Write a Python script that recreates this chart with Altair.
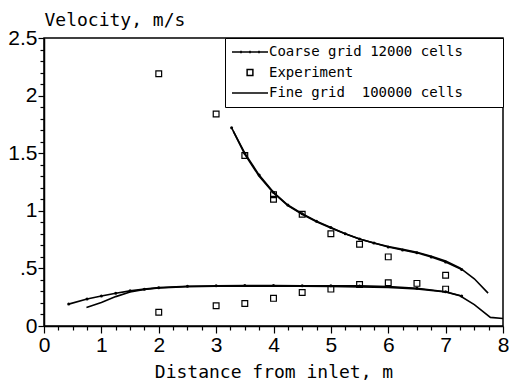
import altair as alt
import pandas as pd

# ---- data ----
coarse_up_x = [3.27, 3.5, 3.75, 4.0, 4.25, 4.5, 4.75, 5.0, 5.25, 5.5, 5.75, 6.0, 6.25, 6.5, 6.75, 7.0, 7.28]
coarse_up_y = [1.72, 1.50, 1.31, 1.16, 1.05, 0.975, 0.91, 0.855, 0.80, 0.755, 0.72, 0.685, 0.66, 0.635, 0.60, 0.555, 0.49]

coarse_lo_x = [0.43, 0.75, 1.0, 1.25, 1.5, 1.75, 2.0, 2.5, 3.0, 3.5, 4.0, 4.5, 5.0, 5.5, 6.0, 6.5, 7.0, 7.28]
coarse_lo_y = [0.19, 0.235, 0.26, 0.285, 0.305, 0.32, 0.333, 0.345, 0.35, 0.352, 0.352, 0.35, 0.35, 0.348, 0.343, 0.327, 0.297, 0.26]

fine_up_x = [3.3, 3.5, 3.75, 4.0, 4.25, 4.5, 4.75, 5.0, 5.25, 5.5, 5.75, 6.0, 6.25, 6.5, 6.75, 7.0, 7.25, 7.5, 7.74]
fine_up_y = [1.69, 1.49, 1.30, 1.155, 1.045, 0.97, 0.905, 0.85, 0.80, 0.755, 0.72, 0.69, 0.665, 0.64, 0.605, 0.565, 0.505, 0.41, 0.285]

fine_lo_x = [0.74, 1.0, 1.25, 1.5, 1.75, 2.0, 2.5, 3.0, 3.5, 4.0, 4.5, 5.0, 5.5, 6.0, 6.5, 7.0, 7.25, 7.5, 7.78, 8.0]
fine_lo_y = [0.16, 0.205, 0.255, 0.295, 0.318, 0.33, 0.342, 0.345, 0.345, 0.345, 0.345, 0.343, 0.34, 0.335, 0.322, 0.295, 0.262, 0.185, 0.075, 0.065]

exp_x = [2, 3, 3.5, 4, 4, 4.5, 5, 5.5, 6, 7, 2, 3, 3.5, 4, 4.5, 5, 5.5, 6, 6.5, 7]
exp_y = [2.19, 1.84, 1.48, 1.14, 1.10, 0.97, 0.80, 0.71, 0.60, 0.44,
         0.12, 0.175, 0.195, 0.24, 0.29, 0.32, 0.36, 0.375, 0.37, 0.32]

series_names = ["Coarse grid 12000 cells", "Experiment", "Fine grid\u00a0 100000 cells"]

x_major = [0, 1, 2, 3, 4, 5, 6, 7, 8]
x_minor = [i * 0.25 for i in range(33) if i % 4 != 0]
y_major = [0, 0.5, 1, 1.5, 2, 2.5]
y_minor = [round(i * 0.1, 1) for i in range(26) if i % 5 != 0]

# ---- tables ----
coarse = pd.concat([
    pd.DataFrame({"x": coarse_up_x, "y": coarse_up_y, "seg": "up"}),
    pd.DataFrame({"x": coarse_lo_x, "y": coarse_lo_y, "seg": "lo"}),
])
fine = pd.concat([
    pd.DataFrame({"x": fine_up_x, "y": fine_up_y, "seg": "up"}),
    pd.DataFrame({"x": fine_lo_x, "y": fine_lo_y, "seg": "lo"}),
])
exp = pd.DataFrame({"x": exp_x, "y": exp_y, "series": series_names[1]})

TICK_FONT = "Liberation Sans"
TEXT_FONT = "DejaVu Sans Mono"

x_scale = alt.Scale(domain=[0, 8], nice=False, zero=False)
y_scale = alt.Scale(domain=[0, 2.5], nice=False, zero=False)

x_axis = alt.Axis(
    orient="bottom", values=x_major, format="~g",
    labelOverlap=False, labelFlush=False,
    tickSize=7, labelFontSize=21, labelPadding=1, labelFont=TICK_FONT,
    title="Distance from inlet, m",
    titleFont=TEXT_FONT, titleFontSize=18, titleFontWeight="normal",
    titleBaseline="alphabetic", titleY=51,
    grid=False,
)
y_axis = alt.Axis(
    orient="left", values=y_major,
    labelExpr="datum.value == 0.5 ? '.5' : datum.label", format="~g",
    labelOverlap=False, labelFlush=False,
    tickSize=6, labelFontSize=21, labelPadding=1, labelFont=TICK_FONT,
    title="Velocity, m/s",
    titleAngle=0, titleAlign="left", titleBaseline="alphabetic",
    titleX=0, titleY=-13,
    titleFont=TEXT_FONT, titleFontSize=18, titleFontWeight="normal",
    grid=False,
)
x_axis_minor = alt.Axis(
    orient="bottom", values=x_minor, labels=False, title=None,
    tickSize=4, domain=False, grid=False,
)
y_axis_minor = alt.Axis(
    orient="left", values=y_minor, labels=False, title=None,
    tickSize=4, domain=False, grid=False,
)

coarse_layer = alt.Chart(coarse).mark_line(
    color="black", strokeWidth=1.6,
    point=alt.OverlayMarkDef(filled=True, size=9, color="black"),
).encode(
    x=alt.X("x:Q", scale=x_scale, axis=x_axis),
    y=alt.Y("y:Q", scale=y_scale, axis=y_axis),
    detail="seg:N",
)

fine_layer = alt.Chart(fine).mark_line(color="black", strokeWidth=1.6).encode(
    x=alt.X("x:Q", scale=x_scale, axis=x_axis_minor),
    y=alt.Y("y:Q", scale=y_scale, axis=y_axis_minor),
    detail="seg:N",
)

shape_range = [
    "M-1,0H1M-0.5,-0.07V0.07M0,-0.07V0.07M0.5,-0.07V0.07",
    "M-0.16,-0.16H0.16V0.16H-0.16Z",
    "M-1,0H1",
]

# trailing non-breaking spaces (kept by a zero-width space) widen the legend box
PAD = "\u00a0" * 4 + "\u200b"

exp_layer = alt.Chart(exp).mark_point(
    filled=False, color="black", strokeWidth=1.2, size=1296, opacity=1
).encode(
    x=alt.X("x:Q", scale=x_scale, axis=None),
    y=alt.Y("y:Q", scale=y_scale, axis=None),
    shape=alt.Shape(
        "series:N",
        scale=alt.Scale(domain=series_names, range=shape_range),
        legend=alt.Legend(
            title=None, orient="top-right", offset=0,
            strokeColor="black", fillColor="white", padding=6,
            symbolSize=1296, clipHeight=16, rowPadding=4.5,
            symbolStrokeColor="black", symbolStrokeWidth=1.5,
            symbolFillColor="transparent",
            labelFont=TEXT_FONT, labelFontSize=14, labelOffset=0,
            labelExpr=f"datum.label + '{PAD}'",
            labelLimit=500,
        ),
    ),
)

chart = alt.layer(coarse_layer, fine_layer, exp_layer).resolve_scale(
    x="shared", y="shared"
).resolve_axis(
    x="independent", y="independent"
).properties(
    width=459, height=288,
    autosize=alt.AutoSizeParams(type="none"),
    padding={"left": 36, "top": 30, "right": 6, "bottom": 55},
).configure_view(
    stroke="black", strokeWidth=1.5
).configure_axis(
    domainColor="black", domainWidth=1.5, tickColor="black", tickWidth=1.2,
    labelColor="black", titleColor="black",
)

chart.save("out.html", embed_options={"renderer": "svg", "actions": False})
